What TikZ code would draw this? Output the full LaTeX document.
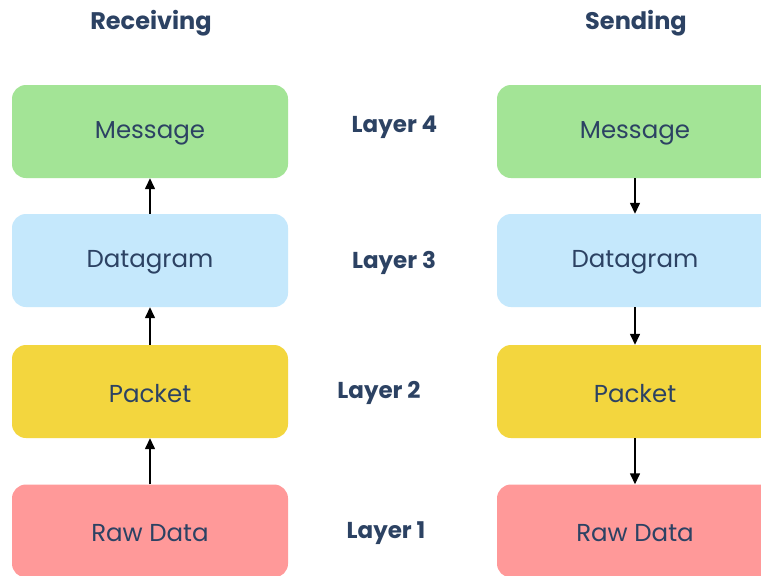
\documentclass[tikz,border=0pt]{standalone}
\usepackage{fontspec}
\setmainfont{Poppins}
\usetikzlibrary{arrows.meta}
\definecolor{ink}{HTML}{2C4263}
\definecolor{msgfill}{HTML}{A3E496}
\definecolor{dgfill}{HTML}{C5E8FC}
\definecolor{pkfill}{HTML}{F3D63E}
\definecolor{rawfill}{HTML}{FF9999}
\tikzset{
  layerbox/.style={draw=none, rounded corners=14pt, minimum width=276pt,
    minimum height=93pt, inner sep=0pt},
  boxtext/.style={inner sep=0pt, text=ink, font=\fontsize{24.5}{29}\selectfont, yshift=-2pt},
  heading/.style={text=ink, font=\fontsize{24}{28}\selectfont\bfseries, inner sep=0pt, yshift=-2pt},
  layerlabel/.style={text=ink, font=\fontsize{23}{27}\selectfont\bfseries, inner sep=0pt, yshift=-2pt},
  flow/.style={line width=1.4pt, -{Triangle[width=10pt,length=11pt]}}
}
\begin{document}
\begin{tikzpicture}[x=1pt,y=-1pt]
\useasboundingbox (0,0) rectangle (761,576);
\clip (0,0) rectangle (761,576);
\fill[white] (0,0) rectangle (761,576);

% column headings
\node[heading] (hrecv) at (151,21) {Receiving};
\node[heading] (hsend) at (636,21) {Sending};

% receiving stack
\node[layerbox, fill=msgfill] (rmsg) at (150,131.5) {};
\node[layerbox, fill=dgfill]  (rdg)  at (150,260.5) {};
\node[layerbox, fill=pkfill]  (rpk)  at (150,391.5) {};
\node[layerbox, fill=rawfill] (rraw) at (150,531)   {};
\node[boxtext] (trmsg) at (rmsg) {Message};
\node[boxtext] (trdg)  at (rdg)  {Datagram};
\node[boxtext] (trpk)  at (rpk)  {Packet};
\node[boxtext] (trraw) at (rraw) {Raw Data};

% sending stack
\node[layerbox, fill=msgfill] (smsg) at (635,131.5) {};
\node[layerbox, fill=dgfill]  (sdg)  at (635,260.5) {};
\node[layerbox, fill=pkfill]  (spk)  at (635,391.5) {};
\node[layerbox, fill=rawfill] (sraw) at (635,531)   {};
\node[boxtext] (tsmsg) at (smsg) {Message};
\node[boxtext] (tsdg)  at (sdg)  {Datagram};
\node[boxtext] (tspk)  at (spk)  {Packet};
\node[boxtext] (tsraw) at (sraw) {Raw Data};

% layer names
\node[layerlabel] (l4) at (394.5,125) {Layer 4};
\node[layerlabel] (l3) at (394,261) {Layer 3};
\node[layerlabel] (l2) at (379,391) {Layer 2};
\node[layerlabel] (l1) at (386,531) {Layer 1};

% data moves up when receiving
\draw[flow] (rraw.north) -- (rpk.south);
\draw[flow] (rpk.north) -- (rdg.south);
\draw[flow] (rdg.north) -- (rmsg.south);

% data moves down when sending
\draw[flow] (smsg.south) -- (sdg.north);
\draw[flow] (sdg.south) -- (spk.north);
\draw[flow] (spk.south) -- (sraw.north);
\end{tikzpicture}
\end{document}
